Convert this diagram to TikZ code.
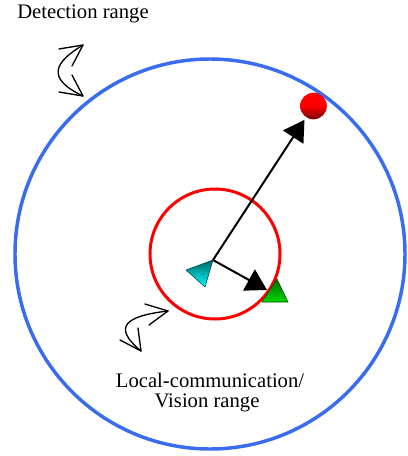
\documentclass[tikz,border=0pt]{standalone}
\usepackage{fontspec}
\setmainfont{Liberation Serif}
\newfontfamily\lblfont{Liberation Serif}
\usetikzlibrary{arrows.meta}
\definecolor{detblue}{RGB}{58,108,240}
\tikzset{
  lbl/.style={font=\lblfont\fontsize{15.5pt}{17pt}\selectfont, inner sep=0pt, align=center},
  motion/.style={line width=1pt, black, line cap=round, line join=round},
  ptr/.style={line width=1.5pt, -{Triangle[length=15.5pt,width=18pt]}},
}
\begin{document}
\begin{tikzpicture}[x=0.75pt,y=-0.75pt]
\useasboundingbox (0,0) rectangle (407,456);
% ranges
\draw[detblue, line width=2.6pt] (210,254) circle (195);
\draw[red, line width=2.25pt] (215,254) circle (65);
% robot (cyan)
\coordinate (robot) at (213,260);
\shade[top color=teal!80!black, bottom color=cyan, draw=teal!50!black, line width=0.4pt]
  (186,270) -- (robot) -- (205,287) -- cycle;
% green target
\shade[top color=green!40!black, bottom color=green!85!black, draw=green!30!black, line width=0.4pt]
  (277,279) -- (288,302) -- (262,302) -- cycle;
\coordinate (gtip) at (267,290);
% red target ball
\node[circle, minimum size=20pt, inner sep=0pt, outer sep=2.4pt,
      top color=red, bottom color=red!45!black, middle color=red] (ball) at (313.5,106) {};
% pointers
\draw[ptr] (robot) -- (ball);
\draw[ptr] (robot) -- (gtip);
% motion squiggles
\draw[motion] (83,45) .. controls (55,62) and (45,78) .. (83,96);
\draw[motion] (59,49) -- (83,45) -- (72,66);
\draw[motion] (59,92) -- (83,96) -- (72,75);
\draw[motion] (168,311) .. controls (125,316) and (112,327) .. (141,351);
\draw[motion] (145,304) -- (168,311) -- (149,325);
\draw[motion] (120,340) -- (141,351) -- (138,328);
% labels
\node[lbl, anchor=west] (detlbl) at (17,14) {Detection range};
\node[lbl] (loclbl) at (210,380) {Local-communication/};
\node[lbl] (vislbl) at (207,403) {Vision range};
\end{tikzpicture}
\end{document}
